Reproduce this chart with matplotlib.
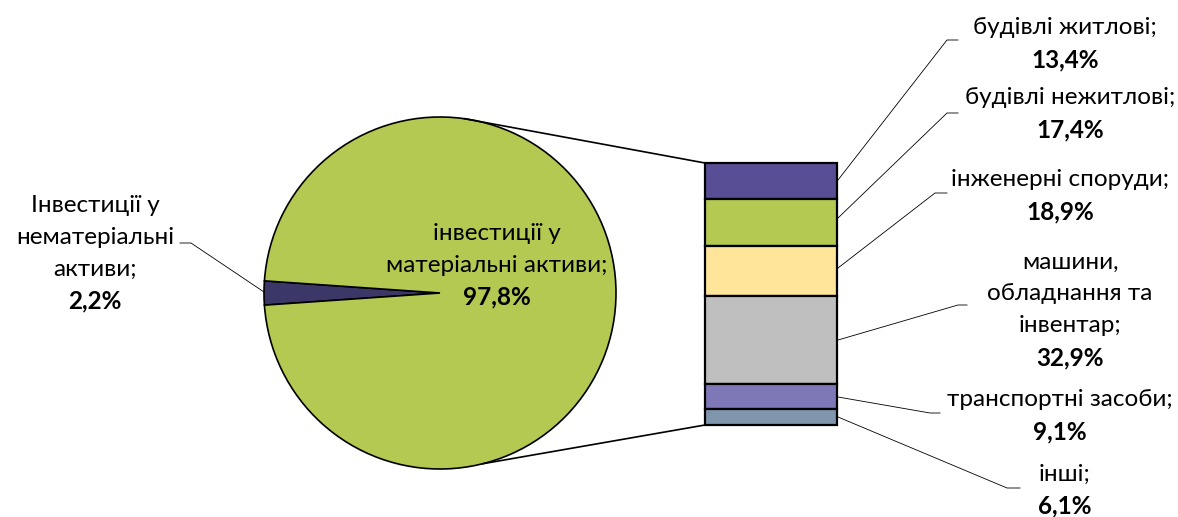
import matplotlib
matplotlib.use("Agg")
import matplotlib.pyplot as plt
import numpy as np

plt.rcParams['font.family'] = ['Lato', 'DejaVu Sans']

# ---- data ----
pie_labels = ["Інвестиції у\nнематеріальні\nактиви;", "інвестиції у\nматеріальні активи;"]
pie_values = [2.2, 97.8]
pie_pct = ["2,2%", "97,8%"]
pie_colors = ["#3b3868", "#b3c951"]

bar_labels = ["будівлі житлові;", "будівлі нежитлові;", "інженерні споруди;",
              "машини,\nобладнання та\nінвентар;", "транспортні засоби;", "інші;"]
bar_values = [13.4, 17.4, 18.9, 32.9, 9.1, 6.1]
bar_pct = ["13,4%", "17,4%", "18,9%", "32,9%", "9,1%", "6,1%"]
bar_colors = ["#574e95", "#b3c951", "#fee599", "#bfbfbf", "#7f78b8", "#8096ad"]

# ---- layout (pixel coordinates) ----
W, H = 1178, 517
fig = plt.figure(figsize=(W / 100, H / 100), dpi=100)
ax = fig.add_axes([0, 0, 1, 1])

cx, cy, R = 440, 293, 176
start = 180 - pie_values[0] / sum(pie_values) * 360 / 2
wedges, _ = ax.pie(pie_values, colors=pie_colors, startangle=start, center=(cx, cy), radius=R,
                   wedgeprops=dict(edgecolor="black", linewidth=1.2))
ax.set_xlim(0, W)
ax.set_ylim(H, 0)
ax.set_aspect("equal")
ax.axis("off")

FS = 17.5
LH = 32

def label(x, ytop, text, pct, ha="center"):
    lines = text.split("\n")
    for i, ln in enumerate(lines):
        ax.text(x, ytop + i * LH, ln, ha=ha, va="center", fontsize=FS, color="black")
    ax.text(x, ytop + len(lines) * LH, pct, ha=ha, va="center", fontsize=FS,
            fontweight="bold", color="black")

# pie labels
label(497, 233, pie_labels[1], pie_pct[1])
label(95, 205, pie_labels[0], pie_pct[0])
ax.plot([264, 191, 180], [292, 243, 243], color="black", lw=0.6)

# bar of pie
bx0, bx1, btop, bbot = 705, 837, 163, 425
scale = (bbot - btop) / sum(bar_values)
cum = btop
for v, c in zip(bar_values, bar_colors):
    h = v * scale
    ax.bar((bx0 + bx1) / 2, h, bottom=cum, width=bx1 - bx0, color=c,
           edgecolor="black", linewidth=1.6, zorder=3)
    cum += h

# connector lines pie -> bar
a_top, a_bot = np.deg2rad(82), np.deg2rad(-76)
ax.plot([cx + R * np.cos(a_top), bx0], [cy - R * np.sin(a_top), btop], color="black", lw=1.2)
ax.plot([cx + R * np.cos(a_bot), bx0], [cy - R * np.sin(a_bot), bbot], color="black", lw=1.2)

# bar labels: (text centre x, first line y, leader start y, leader elbow x, elbow y, end x)
lab_pos = [
    (1065, 28, 180, 947, 40, 958),
    (1070, 98, 218, 947, 113, 958),
    (1060, 180, 268, 935, 193, 947),
    (1070, 262, 340, 958, 305, 967),
    (1060, 400, 397, 930, 413, 940),
    (1065, 474, 417, 1007, 488, 1020),
]
for (tx, ty, ly, ex, ey, ee), t, p in zip(lab_pos, bar_labels, bar_pct):
    label(tx, ty, t, p)
    ax.plot([bx1 + 1, ex, ee], [ly, ey, ey], color="black", lw=0.6)

fig.savefig("out.png", dpi=100)
